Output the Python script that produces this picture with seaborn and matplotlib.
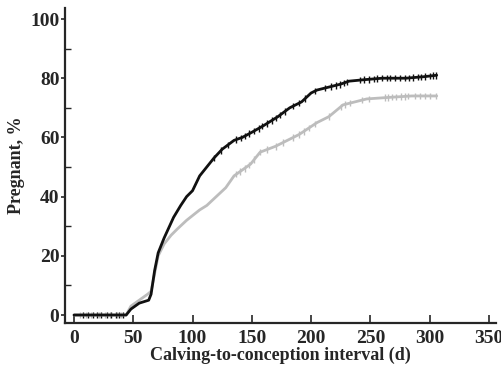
import numpy as np
import pandas as pd
import matplotlib
matplotlib.use("Agg")
import matplotlib.pyplot as plt
import seaborn as sns
from matplotlib.ticker import MultipleLocator

# Curve knots (days, % pregnant)
black_days = [0, 44, 48, 55, 63, 65, 68, 71, 76, 84, 90, 95, 100, 106, 112, 118, 125, 135, 142, 149, 160, 172, 182, 192, 200, 205, 215, 225, 232, 245, 260, 280, 295, 306]
black_pct = [0, 0, 2, 4, 5, 7, 15, 21, 26, 33, 37, 40, 42, 47, 50, 53, 56, 59, 60, 61.5, 64, 67, 70, 72, 75, 76, 77, 78, 79, 79.5, 80, 80, 80.5, 81]

gray_days = [0, 44, 48, 55, 62, 65, 68, 71, 76, 82, 87, 95, 106, 112, 120, 128, 135, 142, 149, 157, 170, 180, 190, 205, 215, 227, 237, 247, 265, 285, 306]
gray_pct = [0, 0, 3, 5, 7, 8, 14, 20, 24, 27, 29, 32, 35.5, 37, 40, 43, 47, 49, 51, 55, 57, 59, 61, 65, 67, 71, 72, 73, 73.5, 74, 74]

black_censor = [8, 12, 16, 19, 23, 28, 31, 35, 38, 41, 118, 124, 130, 137, 141, 144, 148, 152, 156, 159, 163, 167, 170, 174, 178, 185, 190, 195, 203, 212, 217, 221, 224, 228, 230, 241, 245, 249, 253, 256, 260, 264, 267, 271, 275, 279, 283, 286, 290, 293, 296, 300, 303, 305]
gray_censor = [5, 10, 14, 21, 26, 30, 36, 40, 137, 140, 144, 148, 152, 157, 163, 170, 176, 185, 190, 194, 198, 203, 215, 225, 229, 233, 243, 249, 262, 265, 268, 272, 276, 279, 282, 288, 292, 296, 300, 305]

bc_y = np.interp(black_censor, black_days, black_pct)
gc_y = np.interp(gray_censor, gray_days, gray_pct)

df = pd.concat([
    pd.DataFrame({"day": gray_days, "pct": gray_pct, "grp": "gray"}),
    pd.DataFrame({"day": black_days, "pct": black_pct, "grp": "black"}),
])
cdf = pd.concat([
    pd.DataFrame({"day": gray_censor, "pct": gc_y, "grp": "gray"}),
    pd.DataFrame({"day": black_censor, "pct": bc_y, "grp": "black"}),
])

sns.set_style("ticks")
plt.rcParams["font.family"] = ["Liberation Serif", "DejaVu Serif"]
plt.rcParams["font.weight"] = "bold"

fig = plt.figure(figsize=(5.02, 3.66), dpi=100)
ax = fig.add_axes([0.1295, 0.1175, 0.8585, 0.8605])

pal = {"gray": "#bdbdbd", "black": "#111111"}
sns.lineplot(data=df, x="day", y="pct", hue="grp", palette=pal, linewidth=2.0,
             legend=False, ax=ax, sort=False)
sns.scatterplot(data=cdf, x="day", y="pct", hue="grp", palette=pal, marker="|",
                s=22, linewidth=1.0, legend=False, ax=ax)

ax.set_xlim(-7.6, 356)
ax.set_ylim(-2.7, 103.7)
ax.set_xticks([0, 50, 100, 150, 200, 250, 300, 350])
ax.set_yticks([0, 20, 40, 60, 80, 100])
ax.yaxis.set_minor_locator(MultipleLocator(10))
ax.tick_params(axis="x", direction="in", length=6, width=1.2, labelsize=14, pad=5)
ax.tick_params(axis="y", which="major", direction="out", length=3, width=1.2, labelsize=14, pad=1)
ax.tick_params(axis="y", which="minor", direction="in", length=4, width=1.0)
for lab in ax.get_xticklabels() + ax.get_yticklabels():
    lab.set_fontweight("bold")

sns.despine(ax=ax)
for s in ["left", "bottom"]:
    ax.spines[s].set_linewidth(1.6)

ax.set_xlabel("Calving-to-conception interval (d)", fontsize=13, fontweight="bold", labelpad=0)
ax.set_ylabel("Pregnant, %", fontsize=13, fontweight="bold")
ax.yaxis.set_label_coords(-0.093, 0.5)

fig.savefig("out.png", dpi=100)
